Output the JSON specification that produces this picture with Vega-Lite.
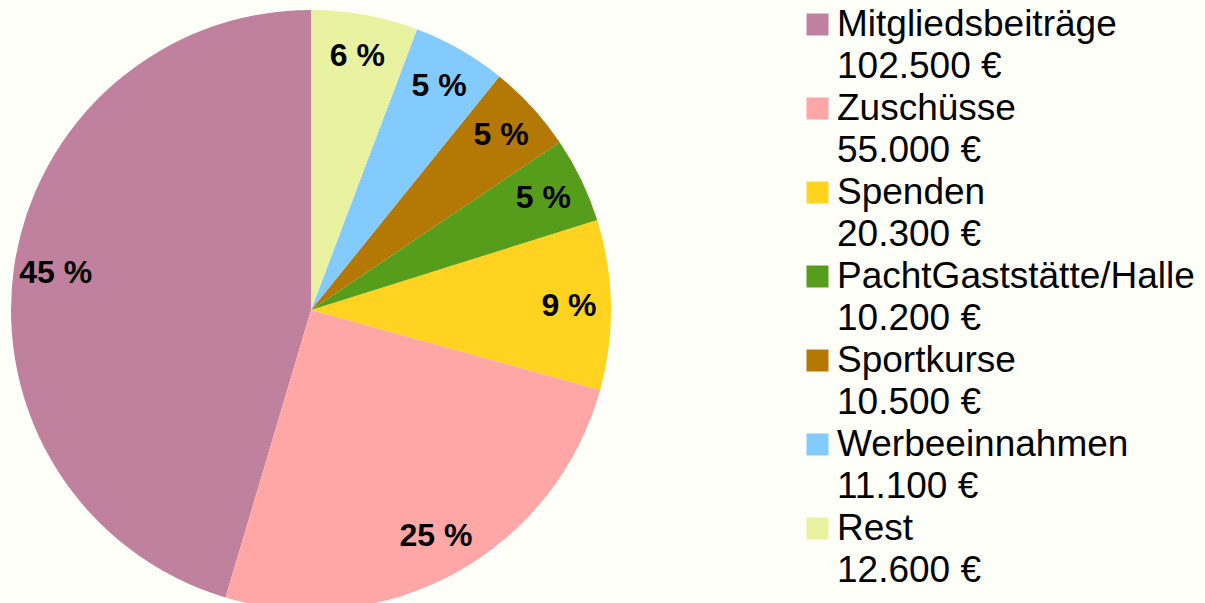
{
  "$schema": "https://vega.github.io/schema/vega-lite/v6.json",
  "width": 622,
  "height": 620,
  "autosize": {"type": "none"},
  "padding": {"left": 0, "top": 0, "right": 583, "bottom": -17},
  "background": "#fffffa",
  "view": {"stroke": null},
  "config": {"style": {"guide-label": {"lineHeight": 42}}},
  "data": {
    "values": [
      {"name": "Mitgliedsbeiträge", "leg": "Mitgliedsbeiträge|102.500 €", "anteil": 45.4, "pct": "45 %", "o": 7},
      {"name": "Zuschüsse", "leg": "Zuschüsse|55.000 €", "anteil": 25.3, "pct": "25 %", "o": 6},
      {"name": "Spenden", "leg": "Spenden|20.300 €", "anteil": 9.15, "pct": "9 %", "o": 5},
      {"name": "PachtGaststätte/Halle", "leg": "PachtGaststätte/Halle|10.200 €", "anteil": 4.6, "pct": "5 %", "o": 4},
      {"name": "Sportkurse", "leg": "Sportkurse|10.500 €", "anteil": 4.75, "pct": "5 %", "o": 3},
      {"name": "Werbeeinnahmen", "leg": "Werbeeinnahmen|11.100 €", "anteil": 5.05, "pct": "5 %", "o": 2},
      {"name": "Rest", "leg": "Rest|12.600 €", "anteil": 5.75, "pct": "6 %", "o": 1}
    ]
  },
  "encoding": {
    "theta": {"field": "anteil", "type": "quantitative", "stack": true},
    "order": {"field": "o", "type": "quantitative", "sort": "ascending"}
  },
  "layer": [
    {
      "mark": {"type": "arc", "outerRadius": 300},
      "encoding": {
        "color": {
          "field": "leg",
          "type": "nominal",
          "scale": {
            "domain": ["Mitgliedsbeiträge|102.500 €", "Zuschüsse|55.000 €", "Spenden|20.300 €", "PachtGaststätte/Halle|10.200 €", "Sportkurse|10.500 €", "Werbeeinnahmen|11.100 €", "Rest|12.600 €"],
            "range": ["#bf819e", "#ffa6a6", "#ffd320", "#579d1c", "#b47804", "#83caff", "#e8f2a1"]
          },
          "legend": {
            "title": null,
            "orient": "none",
            "legendX": 799,
            "legendY": 6,
            "padding": 0,
            "symbolType": "square",
            "symbolSize": 484,
            "symbolStrokeWidth": 0,
            "symbolOpacity": 1,
            "labelFont": "Liberation Sans",
            "labelFontSize": 37,
            "labelColor": "#000000",
            "labelLimit": 600,
            "labelOffset": 1,
            "labelBaseline": "middle",
            "rowPadding": 4,
            "labelExpr": "split(datum.label, '|')"
          }
        }
      }
    },
    {
      "mark": {"type": "text", "radius": 258, "font": "Liberation Sans", "fontSize": 32, "fontWeight": "bold", "color": "#000000"},
      "encoding": {"text": {"field": "pct", "type": "nominal"}}
    }
  ]
}
